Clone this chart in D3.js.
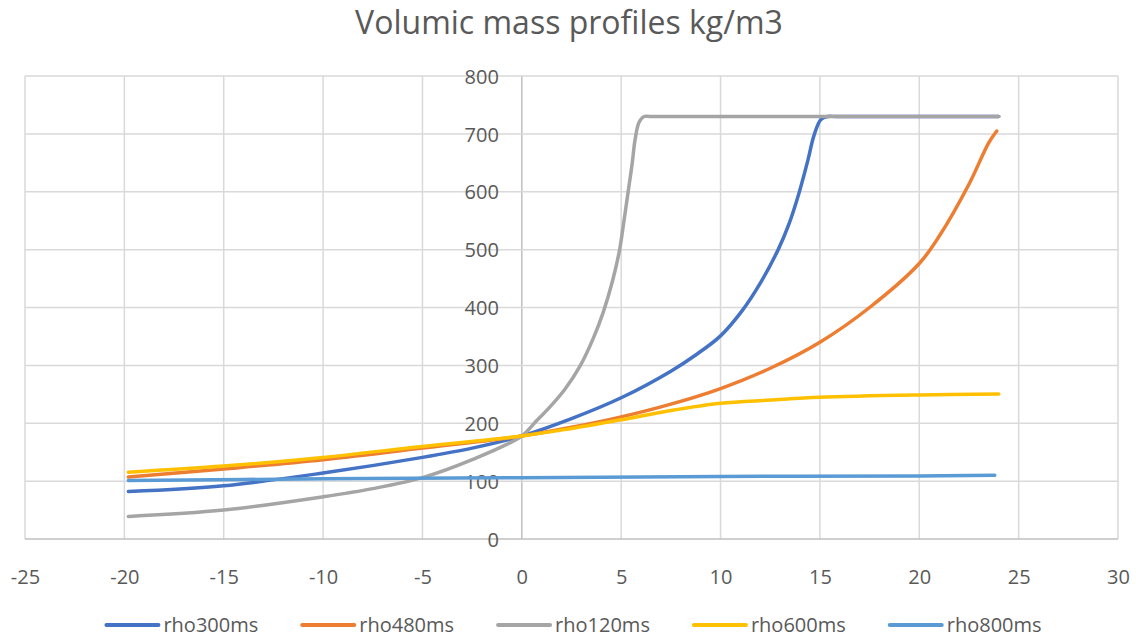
<!DOCTYPE html>
<html>
<head>
<meta charset="utf-8">
<script src="https://cdn.jsdelivr.net/npm/d3@7"></script>
<style>
    body { margin: 0; background: #ffffff; }
    svg { font-family: "Open Sans", sans-serif; }
</style>
</head>
<body>
<div id="plot"></div>
<script>
// series values (x in axis units, y in kg/m3)
var rho300X = [-19.8, -15, -10, -5, -2.5, 0, 2.5, 5, 7.5, 8.75, 10, 11.1, 12, 12.9, 13.45, 13.95, 14.4, 14.7, 15.05, 15.4, 15.8, 20, 24];
var rho300Y = [82, 92, 114, 141, 157, 178, 208, 244, 290, 318, 351, 395, 442, 500, 545, 598, 655, 697, 725, 730, 730, 730, 730];

var rho480X = [-19.8, -15, -10, -5, 0, 2.5, 5, 7.5, 10, 12.5, 15, 17.5, 20, 21, 22.5, 23.5, 23.9];
var rho480Y = [107, 121, 137, 157, 178, 193, 211, 233, 260, 295, 340, 400, 476, 523, 613, 685, 705];

var rho120X = [-19.8, -15, -10, -7.5, -5, -2.5, 0, 0.65, 1.3, 2.15, 2.95, 3.6, 4.1, 4.55, 4.9, 5.1, 5.35, 5.55, 5.7, 5.9, 6.15, 6.5, 10, 15, 20, 24];
var rho120Y = [39, 50, 73, 87, 106, 137, 178, 201, 224, 258, 300, 347, 392, 444, 496, 540, 600, 648, 690, 720, 730, 730, 730, 730, 730, 730];

var rho600X = [-19.8, -15, -10, -5, 0, 2.5, 5, 7.5, 10, 12.5, 15, 20, 24];
var rho600Y = [115.5, 126, 141, 160, 178, 191, 206, 222, 234.5, 240, 245, 249, 250.5];

var rho800X = [-19.8, -10, 0, 10, 20, 23.8];
var rho800Y = [101, 104, 106, 108, 109, 110];

var seriesNames = ["rho300ms", "rho480ms", "rho120ms", "rho600ms", "rho800ms"];
var seriesColors = ["#4472C4", "#ED7D31", "#A5A5A5", "#FFC000", "#5B9BD5"];

var xTicks = [-25, -20, -15, -10, -5, 0, 5, 10, 15, 20, 25, 30];
var yTicks = [0, 100, 200, 300, 400, 500, 600, 700, 800];

var chartTitle = "Volumic mass profiles kg/m3";

var W = 1136, H = 639;
var margin = { top: 76, right: 18, bottom: 100, left: 25 },
    width = W - margin.left - margin.right,
    height = H - margin.top - margin.bottom;

var xScale = d3.scaleLinear().domain([-25, 30]).range([0, width]);
var yScale = d3.scaleLinear().domain([0, 800]).range([height, 0]);

// build the series table from the arrays
var xs = [rho300X, rho480X, rho120X, rho600X, rho800X];
var ys = [rho300Y, rho480Y, rho120Y, rho600Y, rho800Y];
var series = seriesNames.map(function (name, i) {
    return {
        name: name,
        color: seriesColors[i],
        values: xs[i].map(function (x, j) { return { x: x, y: ys[i][j] }; })
    };
});

var svg = d3.select("#plot").append("svg")
    .attr("width", W)
    .attr("height", H);

// title
svg.append("text")
    .attr("x", 569)
    .attr("y", 34)
    .attr("text-anchor", "middle")
    .style("font-size", "32px")
    .style("fill", "#595959")
    .text(chartTitle);

var g = svg.append("g")
    .attr("transform", "translate(" + margin.left + "," + margin.top + ")");

// gridlines
g.selectAll(".vgrid")
    .data(xTicks)
    .enter().append("line")
    .attr("class", "vgrid")
    .attr("x1", function (d) { return xScale(d); })
    .attr("x2", function (d) { return xScale(d); })
    .attr("y1", 0)
    .attr("y2", height)
    .style("stroke", function (d) { return d === 0 ? "#bfbfbf" : "#d9d9d9"; })
    .style("stroke-width", 1.5);

g.selectAll(".hgrid")
    .data(yTicks)
    .enter().append("line")
    .attr("class", "hgrid")
    .attr("x1", 0)
    .attr("x2", width)
    .attr("y1", function (d) { return yScale(d); })
    .attr("y2", function (d) { return yScale(d); })
    .style("stroke", function (d) { return d === 0 ? "#bfbfbf" : "#d9d9d9"; })
    .style("stroke-width", 1.5);

// plain hyphen for negatives, like the original
var fmt = function (d) { return String(d); };

// x axis labels (below the plot)
var xAxis = d3.axisBottom(xScale).tickValues(xTicks).tickFormat(fmt).tickSize(0).tickPadding(0);
var xg = g.append("g")
    .attr("transform", "translate(0," + height + ")")
    .call(xAxis);
xg.select(".domain").remove();
xg.selectAll("text")
    .attr("dy", 0)
    .attr("y", 45)
    .style("font-family", "'Open Sans', sans-serif")
    .style("font-size", "20px")
    .style("fill", "#595959");

// y axis labels sit next to the x=0 line
var yAxis = d3.axisLeft(yScale).tickValues(yTicks).tickFormat(fmt).tickSize(0).tickPadding(23);
var yg = g.append("g")
    .attr("transform", "translate(" + xScale(0) + ",0)")
    .call(yAxis);
yg.select(".domain").remove();
yg.selectAll("text")
    .attr("dy", "0.36em")
    .style("font-family", "'Open Sans', sans-serif")
    .style("font-size", "20px")
    .style("fill", "#595959");

// smoothed lines
var line = d3.line()
    .x(function (d) { return xScale(d.x); })
    .y(function (d) { return yScale(d.y); })
    .curve(d3.curveCatmullRom.alpha(0.5));

g.selectAll(".series")
    .data(series)
    .enter().append("path")
    .attr("class", "series")
    .attr("d", function (d) { return line(d.values); })
    .style("fill", "none")
    .style("stroke", function (d) { return d.color; })
    .style("stroke-width", 3.5)
    .style("stroke-linecap", "round")
    .style("stroke-linejoin", "round");

// legend
var legend = svg.append("g");
var items = legend.selectAll(".item")
    .data(series)
    .enter().append("g")
    .attr("class", "item");

items.append("line")
    .attr("x1", 0)
    .attr("x2", 52)
    .attr("y1", 0)
    .attr("y2", 0)
    .style("stroke", function (d) { return d.color; })
    .style("stroke-width", 4)
    .style("stroke-linecap", "round");

items.append("text")
    .attr("x", 57)
    .attr("y", 7)
    .style("font-size", "20px")
    .style("fill", "#595959")
    .text(function (d) { return d.name; });

var pos = 0, offsets = [];
items.each(function () {
    offsets.push(pos);
    pos += 57 + d3.select(this).select("text").node().getComputedTextLength() + 44;
});
var total = pos - 44;
var startX = 574 - total / 2;
items.attr("transform", function (d, i) { return "translate(" + (startX + offsets[i]) + ",625)"; });
</script>
</body>
</html>
